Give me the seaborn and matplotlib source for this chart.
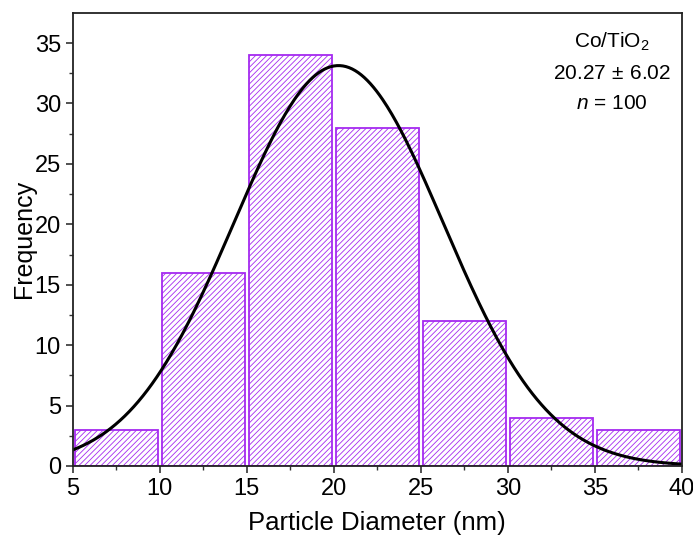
import numpy as np
import pandas as pd
import seaborn as sns
import matplotlib.pyplot as plt

# histogram counts per 5 nm bin
bin_edges = [5, 10, 15, 20, 25, 30, 35, 40]
bin_centers = [7.5, 12.5, 17.5, 22.5, 27.5, 32.5, 37.5]
counts = [3, 16, 34, 28, 12, 4, 3]

# gaussian fit parameters shown in the label
fit_mean = 20.27
fit_sd = 6.02
n_particles = 100

sns.set_theme(style="ticks")
plt.rcParams["font.family"] = ["Liberation Sans", "DejaVu Sans"]
plt.rcParams["mathtext.fontset"] = "custom"
plt.rcParams["mathtext.rm"] = "Liberation Sans"
plt.rcParams["mathtext.it"] = "Liberation Sans:italic"
plt.rcParams["hatch.linewidth"] = 0.6
plt.rcParams["text.color"] = "black"
plt.rcParams["axes.labelcolor"] = "black"

fig = plt.figure(figsize=(6.93, 5.35), dpi=100)
ax = fig.add_axes([0.105, 0.129, 0.879, 0.847])

df = pd.DataFrame({"diameter": bin_centers, "count": counts})
sns.histplot(data=df, x="diameter", weights="count", bins=bin_edges,
             shrink=0.95, color="white", edgecolor="#a52af0",
             linewidth=1.3, alpha=1, ax=ax)
for p in ax.patches:
    p.set_hatch("//////")
    p.set_facecolor("white")
    p.set_edgecolor("#a52af0")

# fitted normal curve scaled to counts
xs = np.linspace(5, 40, 400)
bw = bin_edges[1] - bin_edges[0]
ys = n_particles * bw / (fit_sd * np.sqrt(2 * np.pi)) * np.exp(-0.5 * ((xs - fit_mean) / fit_sd) ** 2)
sns.lineplot(x=xs, y=ys, color="black", linewidth=2.2, ax=ax)

ax.set_xlim(5, 40)
ax.set_ylim(0, 37.5)
ax.set_xticks(range(5, 41, 5))
ax.set_yticks(range(0, 36, 5))
ax.set_xticks(np.arange(7.5, 40, 5), minor=True)
ax.set_yticks(np.arange(2.5, 37.5, 5), minor=True)
ax.tick_params(which="major", direction="out", length=5, width=1.2,
               labelsize=17, color="#333333", labelcolor="black")
ax.tick_params(which="minor", direction="out", length=3, width=1.0,
               color="#333333")
for s in ax.spines.values():
    s.set_visible(True)
    s.set_linewidth(1.3)
    s.set_color("#222222")

ax.set_xlabel("Particle Diameter (nm)", fontsize=18.5, labelpad=8)
ax.set_ylabel("Frequency", fontsize=18, labelpad=-1)

ax.text(0.885, 0.935, r"Co/TiO$_2$", transform=ax.transAxes,
        ha="center", va="center", fontsize=15)
ax.text(0.885, 0.867, r"20.27$\,\pm\,$6.02", transform=ax.transAxes,
        ha="center", va="center", fontsize=15)
ax.text(0.885, 0.801, r"$n$ = 100", transform=ax.transAxes,
        ha="center", va="center", fontsize=15)

fig.savefig("out.png", dpi=100)
